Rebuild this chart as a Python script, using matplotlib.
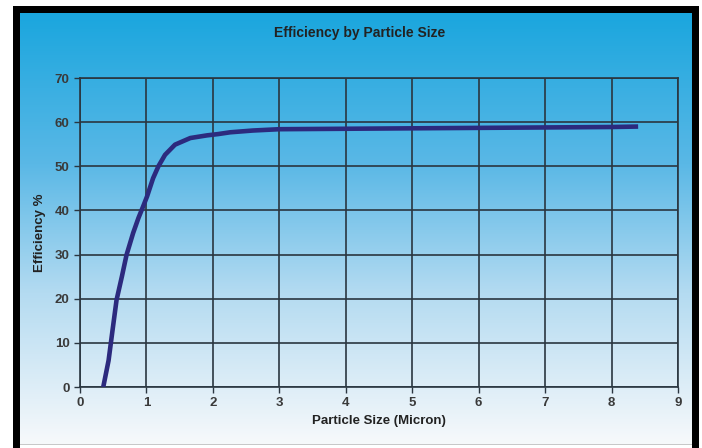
import numpy as np
import matplotlib
matplotlib.use("Agg")
import matplotlib.pyplot as plt
from matplotlib.patches import Rectangle
from matplotlib.colors import LinearSegmentedColormap

# efficiency curve
size_micron = [0.35, 0.43, 0.49, 0.55, 0.63, 0.70, 0.80, 0.88, 0.95, 1.01, 1.10, 1.18,
               1.28, 1.43, 1.66, 1.91, 2.08, 2.26, 2.60, 3.00, 4.00, 5.00, 6.00, 7.00,
               8.00, 8.40]
efficiency = [0.0, 6.0, 12.9, 19.7, 25.0, 29.9, 34.9, 38.3, 40.9, 43.2, 47.3, 50.0,
              52.6, 54.9, 56.4, 57.0, 57.3, 57.7, 58.1, 58.4, 58.5, 58.6, 58.7, 58.8,
              58.9, 59.0]

xticks = list(range(0, 10))
yticks = list(range(0, 80, 10))

W, H = 702, 448
fig = plt.figure(figsize=(W / 100, H / 100), dpi=100)
fig.patch.set_facecolor("white")

# gradient background inside the frame
bg = fig.add_axes([20 / W, 3 / H, (692 - 20) / W, (448 - 13 - 3) / H])
cmap = LinearSegmentedColormap.from_list(
    "sky", [(0.0, "#1aa6de"), (0.35, "#5ab8e6"), (0.65, "#b4dbf1"), (1.0, "#f7f9fb")])
grad = np.linspace(0, 1, 256).reshape(-1, 1)
bg.imshow(grad, aspect="auto", cmap=cmap, extent=[0, 1, 1, 0])
bg.set_axis_off()

# black frame (left, right, top)
for x0, y0, w, h in [(13, 0, 7, 442), (692, 0, 7, 442), (13, 435, 686, 7)]:
    fig.patches.append(Rectangle((x0 / W, y0 / H), w / W, h / H, transform=fig.transFigure,
                                 facecolor="black", edgecolor="none", zorder=5))
fig.patches.append(Rectangle((20 / W, 3 / H), 672 / W, 1 / H, transform=fig.transFigure,
                             facecolor="#c8c8c8", edgecolor="none", zorder=5))

ax = fig.add_axes([80 / W, (448 - 387) / H, (678 - 80) / W, (387 - 78) / H])
ax.patch.set_alpha(0)
ax.plot(size_micron, efficiency, color="#2c2a7e", lw=3.3, solid_capstyle="butt",
        solid_joinstyle="round", zorder=3)
ax.set_xlim(0, 9)
ax.set_ylim(0, 70)
ax.set_xticks(xticks)
ax.set_yticks(yticks)
ax.grid(True, color="#2a3640", lw=1.2)
for s in ax.spines.values():
    s.set_color("#2a3640")
    s.set_linewidth(1.2)
ax.tick_params(length=4, width=1.0, color="#2a3640", labelsize=9.5, labelcolor="#3a3a3a")
for lab in ax.get_xticklabels() + ax.get_yticklabels():
    lab.set_fontfamily("Liberation Sans")
    lab.set_fontweight("bold")

fnt = dict(family="Liberation Sans", weight="bold", color="#222222")
ax.set_xlabel("Particle Size (Micron)", fontsize=9.5, labelpad=4, **fnt)
ax.set_ylabel("Efficiency %", fontsize=9.5, labelpad=6, **fnt)
fig.text(360 / W, 1 - 33 / H, "Efficiency by Particle Size", ha="center", va="center",
         fontsize=10, **fnt)

fig.savefig("out.png", dpi=100)
